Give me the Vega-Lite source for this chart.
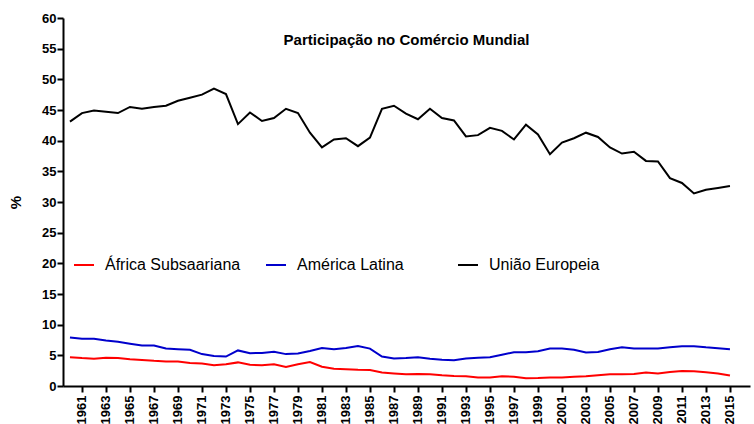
{
  "$schema": "https://vega.github.io/schema/vega-lite/v6.json",
  "width": 687,
  "height": 368,
  "autosize": "none",
  "padding": {"left": 63, "top": 18, "right": 4, "bottom": 38},
  "background": "white",
  "title": {"text": "Participação no Comércio Mundial", "offset": -36, "fontSize": 15, "fontWeight": "bold", "font": "Liberation Sans", "anchor": "middle", "color": "black"},
  "config": {
    "view": {"stroke": null},
    "font": "Liberation Sans",
    "axis": {"domainColor": "black", "domainWidth": 2, "tickColor": "black", "tickWidth": 2, "tickSize": 6, "labelColor": "black", "labelFont": "Liberation Sans", "labelFontWeight": "bold", "labelFontSize": 13, "grid": false, "titleColor": "black", "titleFont": "Liberation Sans"}
  },
  "data": {"values": [
    {"year":1960,"region":"África Subsaariana","value":4.7},{"year":1961,"region":"África Subsaariana","value":4.55},{"year":1962,"region":"África Subsaariana","value":4.45},{"year":1963,"region":"África Subsaariana","value":4.6},{"year":1964,"region":"África Subsaariana","value":4.55},{"year":1965,"region":"África Subsaariana","value":4.35},{"year":1966,"region":"África Subsaariana","value":4.25},{"year":1967,"region":"África Subsaariana","value":4.1},{"year":1968,"region":"África Subsaariana","value":4.0},{"year":1969,"region":"África Subsaariana","value":4.0},{"year":1970,"region":"África Subsaariana","value":3.75},{"year":1971,"region":"África Subsaariana","value":3.65},{"year":1972,"region":"África Subsaariana","value":3.4},{"year":1973,"region":"África Subsaariana","value":3.55},{"year":1974,"region":"África Subsaariana","value":3.85},{"year":1975,"region":"África Subsaariana","value":3.45},{"year":1976,"region":"África Subsaariana","value":3.4},{"year":1977,"region":"África Subsaariana","value":3.55},{"year":1978,"region":"África Subsaariana","value":3.1},{"year":1979,"region":"África Subsaariana","value":3.55},{"year":1980,"region":"África Subsaariana","value":3.9},{"year":1981,"region":"África Subsaariana","value":3.15},{"year":1982,"region":"África Subsaariana","value":2.8},{"year":1983,"region":"África Subsaariana","value":2.75},{"year":1984,"region":"África Subsaariana","value":2.65},{"year":1985,"region":"África Subsaariana","value":2.6},{"year":1986,"region":"África Subsaariana","value":2.2},{"year":1987,"region":"África Subsaariana","value":2.05},{"year":1988,"region":"África Subsaariana","value":1.9},{"year":1989,"region":"África Subsaariana","value":1.95},{"year":1990,"region":"África Subsaariana","value":1.9},{"year":1991,"region":"África Subsaariana","value":1.75},{"year":1992,"region":"África Subsaariana","value":1.65},{"year":1993,"region":"África Subsaariana","value":1.6},{"year":1994,"region":"África Subsaariana","value":1.4},{"year":1995,"region":"África Subsaariana","value":1.4},{"year":1996,"region":"África Subsaariana","value":1.6},{"year":1997,"region":"África Subsaariana","value":1.5},{"year":1998,"region":"África Subsaariana","value":1.25},{"year":1999,"region":"África Subsaariana","value":1.3},{"year":2000,"region":"África Subsaariana","value":1.4},{"year":2001,"region":"África Subsaariana","value":1.4},{"year":2002,"region":"África Subsaariana","value":1.5},{"year":2003,"region":"África Subsaariana","value":1.6},{"year":2004,"region":"África Subsaariana","value":1.75},{"year":2005,"region":"África Subsaariana","value":1.9},{"year":2006,"region":"África Subsaariana","value":1.9},{"year":2007,"region":"África Subsaariana","value":1.95},{"year":2008,"region":"África Subsaariana","value":2.2},{"year":2009,"region":"África Subsaariana","value":2.05},{"year":2010,"region":"África Subsaariana","value":2.3},{"year":2011,"region":"África Subsaariana","value":2.45},{"year":2012,"region":"África Subsaariana","value":2.4},{"year":2013,"region":"África Subsaariana","value":2.25},{"year":2014,"region":"África Subsaariana","value":2.05},{"year":2015,"region":"África Subsaariana","value":1.7},
    {"year":1960,"region":"América Latina","value":7.9},{"year":1961,"region":"América Latina","value":7.7},{"year":1962,"region":"América Latina","value":7.7},{"year":1963,"region":"América Latina","value":7.4},{"year":1964,"region":"América Latina","value":7.2},{"year":1965,"region":"América Latina","value":6.9},{"year":1966,"region":"América Latina","value":6.6},{"year":1967,"region":"América Latina","value":6.6},{"year":1968,"region":"América Latina","value":6.1},{"year":1969,"region":"América Latina","value":6.0},{"year":1970,"region":"América Latina","value":5.9},{"year":1971,"region":"América Latina","value":5.2},{"year":1972,"region":"América Latina","value":4.9},{"year":1973,"region":"América Latina","value":4.8},{"year":1974,"region":"América Latina","value":5.8},{"year":1975,"region":"América Latina","value":5.35},{"year":1976,"region":"América Latina","value":5.4},{"year":1977,"region":"América Latina","value":5.6},{"year":1978,"region":"América Latina","value":5.2},{"year":1979,"region":"América Latina","value":5.3},{"year":1980,"region":"América Latina","value":5.7},{"year":1981,"region":"América Latina","value":6.2},{"year":1982,"region":"América Latina","value":6.0},{"year":1983,"region":"América Latina","value":6.2},{"year":1984,"region":"América Latina","value":6.5},{"year":1985,"region":"América Latina","value":6.1},{"year":1986,"region":"América Latina","value":4.8},{"year":1987,"region":"América Latina","value":4.5},{"year":1988,"region":"América Latina","value":4.55},{"year":1989,"region":"América Latina","value":4.7},{"year":1990,"region":"América Latina","value":4.45},{"year":1991,"region":"América Latina","value":4.3},{"year":1992,"region":"América Latina","value":4.2},{"year":1993,"region":"América Latina","value":4.5},{"year":1994,"region":"América Latina","value":4.6},{"year":1995,"region":"América Latina","value":4.7},{"year":1996,"region":"América Latina","value":5.1},{"year":1997,"region":"América Latina","value":5.5},{"year":1998,"region":"América Latina","value":5.5},{"year":1999,"region":"América Latina","value":5.65},{"year":2000,"region":"América Latina","value":6.1},{"year":2001,"region":"América Latina","value":6.1},{"year":2002,"region":"América Latina","value":5.9},{"year":2003,"region":"América Latina","value":5.45},{"year":2004,"region":"América Latina","value":5.55},{"year":2005,"region":"América Latina","value":6.0},{"year":2006,"region":"América Latina","value":6.3},{"year":2007,"region":"América Latina","value":6.1},{"year":2008,"region":"América Latina","value":6.1},{"year":2009,"region":"América Latina","value":6.1},{"year":2010,"region":"América Latina","value":6.3},{"year":2011,"region":"América Latina","value":6.5},{"year":2012,"region":"América Latina","value":6.5},{"year":2013,"region":"América Latina","value":6.3},{"year":2014,"region":"América Latina","value":6.15},{"year":2015,"region":"América Latina","value":6.0},
    {"year":1960,"region":"União Europeia","value":43.1},{"year":1961,"region":"União Europeia","value":44.5},{"year":1962,"region":"União Europeia","value":44.9},{"year":1963,"region":"União Europeia","value":44.7},{"year":1964,"region":"União Europeia","value":44.5},{"year":1965,"region":"União Europeia","value":45.5},{"year":1966,"region":"União Europeia","value":45.2},{"year":1967,"region":"União Europeia","value":45.5},{"year":1968,"region":"União Europeia","value":45.7},{"year":1969,"region":"União Europeia","value":46.5},{"year":1970,"region":"União Europeia","value":47.0},{"year":1971,"region":"União Europeia","value":47.5},{"year":1972,"region":"União Europeia","value":48.5},{"year":1973,"region":"União Europeia","value":47.6},{"year":1974,"region":"União Europeia","value":42.7},{"year":1975,"region":"União Europeia","value":44.6},{"year":1976,"region":"União Europeia","value":43.2},{"year":1977,"region":"União Europeia","value":43.7},{"year":1978,"region":"União Europeia","value":45.2},{"year":1979,"region":"União Europeia","value":44.5},{"year":1980,"region":"União Europeia","value":41.3},{"year":1981,"region":"União Europeia","value":38.9},{"year":1982,"region":"União Europeia","value":40.2},{"year":1983,"region":"União Europeia","value":40.4},{"year":1984,"region":"União Europeia","value":39.1},{"year":1985,"region":"União Europeia","value":40.5},{"year":1986,"region":"União Europeia","value":45.2},{"year":1987,"region":"União Europeia","value":45.7},{"year":1988,"region":"União Europeia","value":44.4},{"year":1989,"region":"União Europeia","value":43.5},{"year":1990,"region":"União Europeia","value":45.2},{"year":1991,"region":"União Europeia","value":43.7},{"year":1992,"region":"União Europeia","value":43.3},{"year":1993,"region":"União Europeia","value":40.7},{"year":1994,"region":"União Europeia","value":40.9},{"year":1995,"region":"União Europeia","value":42.1},{"year":1996,"region":"União Europeia","value":41.6},{"year":1997,"region":"União Europeia","value":40.2},{"year":1998,"region":"União Europeia","value":42.6},{"year":1999,"region":"União Europeia","value":41.0},{"year":2000,"region":"União Europeia","value":37.8},{"year":2001,"region":"União Europeia","value":39.7},{"year":2002,"region":"União Europeia","value":40.4},{"year":2003,"region":"União Europeia","value":41.3},{"year":2004,"region":"União Europeia","value":40.6},{"year":2005,"region":"União Europeia","value":38.9},{"year":2006,"region":"União Europeia","value":37.9},{"year":2007,"region":"União Europeia","value":38.2},{"year":2008,"region":"União Europeia","value":36.7},{"year":2009,"region":"União Europeia","value":36.6},{"year":2010,"region":"União Europeia","value":33.9},{"year":2011,"region":"União Europeia","value":33.1},{"year":2012,"region":"União Europeia","value":31.4},{"year":2013,"region":"União Europeia","value":32.0},{"year":2014,"region":"União Europeia","value":32.3},{"year":2015,"region":"União Europeia","value":32.6}
  ]},
  "mark": {"type": "line", "strokeWidth": 2},
  "encoding": {
    "x": {"field": "year", "type": "quantitative",
      "scale": {"domain": [1959.42, 2016.67], "nice": false, "zero": false},
      "axis": {"title": null, "values": [1961,1963,1965,1967,1969,1971,1973,1975,1977,1979,1981,1983,1985,1987,1989,1991,1993,1995,1997,1999,2001,2003,2005,2007,2009,2011,2013,2015], "format": "d", "labelAngle": -90, "labelPadding": 3, "labelOverlap": false, "labelFlush": false}},
    "y": {"field": "value", "type": "quantitative",
      "scale": {"domain": [0, 60], "nice": false},
      "axis": {"title": "%", "titleFontSize": 15, "titleFontWeight": "bold", "titlePadding": 18, "values": [0,5,10,15,20,25,30,35,40,45,50,55,60], "labelPadding": 1, "labelFlush": false}},
    "color": {"field": "region", "type": "nominal",
      "scale": {"domain": ["África Subsaariana", "América Latina", "União Europeia"], "range": ["#ff0000", "#0000cc", "#000000"]},
      "legend": {"title": null, "orient": "none", "legendX": 10, "legendY": 236, "direction": "horizontal", "columns": 3, "gridAlign": "all", "columnPadding": 21, "symbolType": "stroke", "symbolSize": 400, "symbolStrokeWidth": 2, "labelFontSize": 16, "labelFont": "Liberation Sans", "labelColor": "black", "labelOffset": 10}}
  }
}
